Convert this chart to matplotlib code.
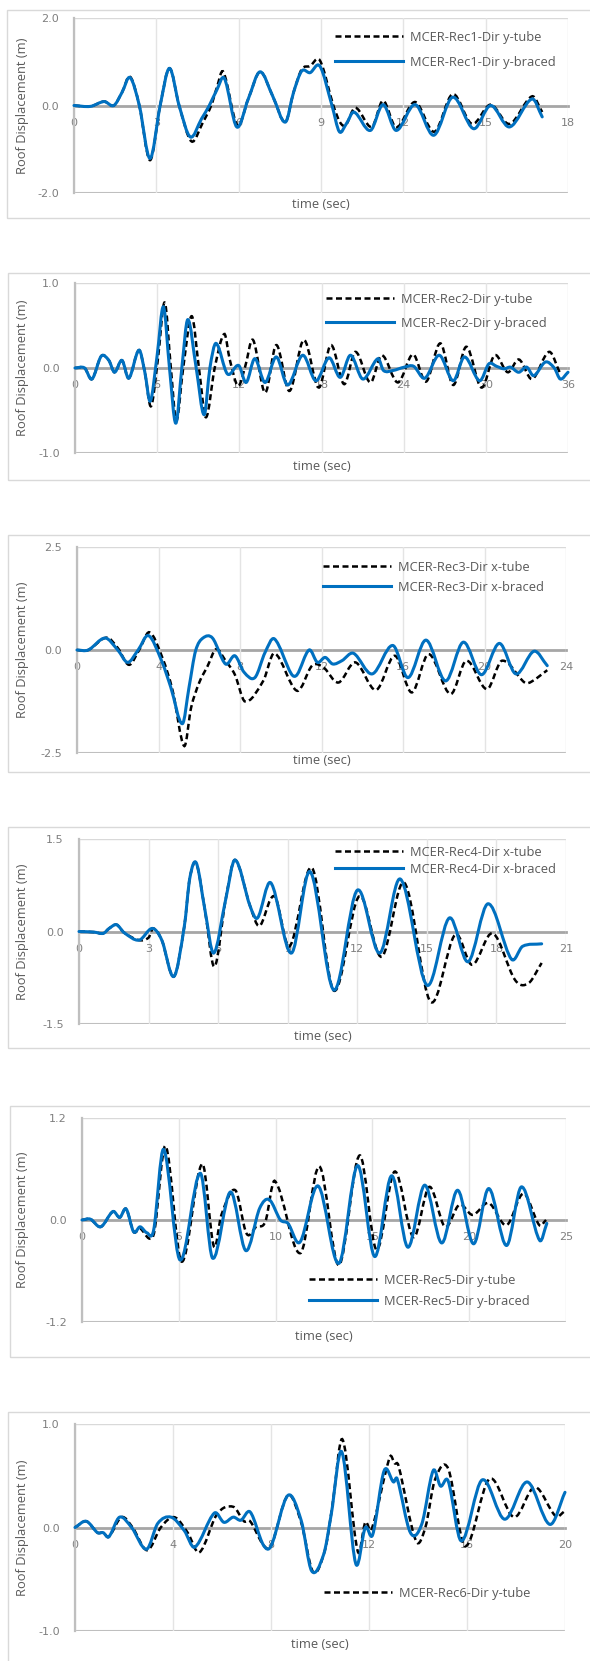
import matplotlib.pyplot as plt
from matplotlib.patches import Rectangle, PathPatch
from matplotlib.path import Path
from matplotlib.lines import Line2D

plt.rcParams['font.family'] = ['Open Sans', 'DejaVu Sans']

# ---- data ----
labels_tube = ['MCER-Rec1-Dir y-tube', 'MCER-Rec2-Dir y-tube', 'MCER-Rec3-Dir x-tube',
               'MCER-Rec4-Dir x-tube', 'MCER-Rec5-Dir y-tube', 'MCER-Rec6-Dir y-tube']
labels_braced = ['MCER-Rec1-Dir y-braced', 'MCER-Rec2-Dir y-braced', 'MCER-Rec3-Dir x-braced',
                 'MCER-Rec4-Dir x-braced', 'MCER-Rec5-Dir y-braced', 'MCER-Rec6-Dir y-braced']
y_max = [2.0, 1.0, 2.5, 1.5, 1.2, 1.0]
t_max = [18, 36, 24, 21, 25, 20]
t_step = [3, 6, 4, 3, 5, 4]

# Rec1
t1_tube = [0, 0.6, 1.1, 1.45, 1.75, 2.04, 2.38, 2.77, 3.14, 3.48, 3.83, 4.28, 4.7, 5.0, 5.2, 5.44, 5.95,
           6.35, 6.78, 7.25, 7.7, 8.0, 8.3, 8.6, 8.96, 9.45, 9.7, 9.9, 10.25, 10.85, 11.26, 11.74, 12.43,
           13.13, 13.8, 14.5, 15.18, 15.87, 16.69, 17.06]
y1_tube = [0, -0.02, 0.09, 0.0, 0.3, 0.66, 0.0, -1.25, 0.0, 0.85, 0.0, -0.82, -0.38, 0.0, 0.4, 0.77, -0.45,
           0.15, 0.77, 0.2, -0.38, 0.3, 0.83, 0.9, 1.03, 0.0, -0.39, -0.45, -0.05, -0.49, 0.11, -0.5, 0.08,
           -0.6, 0.26, -0.42, 0.02, -0.42, 0.21, -0.15]
t1_braced = [0, 0.6, 1.1, 1.45, 1.75, 2.04, 2.38, 2.77, 3.14, 3.48, 3.83, 4.24, 4.65, 4.93, 5.2, 5.48, 5.93,
             6.35, 6.78, 7.25, 7.7, 8.0, 8.3, 8.6, 8.96, 9.4, 9.67, 9.92, 10.2, 10.8, 11.26, 11.74, 12.43,
             13.11, 13.8, 14.56, 15.18, 15.87, 16.69, 17.06]
y1_braced = [0, -0.02, 0.09, 0.0, 0.3, 0.64, 0.0, -1.21, 0.0, 0.85, 0.0, -0.72, -0.3, 0.0, 0.35, 0.62, -0.49,
             0.15, 0.77, 0.2, -0.38, 0.3, 0.79, 0.75, 0.9, 0.0, -0.6, -0.42, -0.15, -0.57, 0.02, -0.57, 0.02,
             -0.68, 0.19, -0.53, 0.0, -0.49, 0.15, -0.26]

# Rec2
t2_tube = [0, 0.7, 1.24, 1.92, 2.47, 2.89, 3.43, 3.93, 4.67, 5.1, 5.55, 6.05, 6.55, 7.0, 7.4, 7.9, 8.52,
           9.05, 9.56, 10.2, 10.9, 11.3, 11.9, 12.4, 13.0, 13.88, 14.7, 15.66, 16.71, 17.8, 18.69, 19.65,
           20.47, 21.57, 22.4, 23.58, 24.68, 25.64, 26.68, 27.62, 28.58, 29.68, 30.64, 31.6, 32.42, 33.38,
           34.62, 35.44]
y2_tube = [0, 0, -0.13, 0.14, 0.09, -0.05, 0.09, -0.12, 0.21, -0.05, -0.45, 0.1, 0.77, 0.0, -0.62, 0.0, 0.61,
           0.0, -0.58, 0.0, 0.4, 0.1, -0.21, 0.0, 0.33, -0.29, 0.27, -0.27, 0.33, -0.23, 0.27, -0.19,
           0.19, -0.17, 0.15, -0.17, 0.16, -0.16, 0.29, -0.2, 0.25, -0.23, 0.15, -0.05, 0.1, -0.13,
           0.19, -0.07]
t2_braced = [0, 0.7, 1.24, 1.92, 2.47, 2.89, 3.43, 3.93, 4.67, 5.1, 5.5, 6.0, 6.46, 6.9, 7.36, 7.8, 8.24,
             8.85, 9.43, 9.85, 10.3, 11.13, 11.95, 12.5, 13.13, 13.88, 14.7, 15.53, 16.63, 17.59, 18.55,
             19.37, 20.12, 21.02, 22.12, 22.53, 23.2, 24.05, 24.73, 25.55, 26.6, 27.62, 28.44, 29.54, 30.23,
             30.78, 31.33, 31.8, 32.4, 32.98, 33.5, 34.35, 35.0, 35.44, 36.0]
y2_braced = [0, 0, -0.13, 0.14, 0.09, -0.05, 0.09, -0.12, 0.21, -0.05, -0.39, 0.15, 0.72, 0.0, -0.65, 0.0, 0.57,
             0.0, -0.55, 0.0, 0.29, -0.07, 0.03, -0.17, 0.11, -0.17, 0.13, -0.2, 0.15, -0.15, 0.12,
             -0.11, 0.15, -0.13, 0.11, -0.03, -0.03, 0.01, 0.02, -0.12, 0.15, -0.15, 0.13, -0.15, 0.05,
             0.02, -0.01, 0.01, -0.05, 0.01, -0.09, 0.07, 0.0, -0.13, -0.05]

# Rec3
t3_tube = [0, 0.55, 1.45, 2.0, 2.55, 3.05, 3.56, 4.2, 4.7, 5.26, 5.6, 6.0, 6.4, 6.83, 7.29, 7.75, 8.25, 9.14,
           9.69, 10.8, 11.54, 12.09, 12.83, 13.66, 14.68, 15.6, 16.43, 17.26, 18.33, 19.11, 20.12, 20.86,
           21.97, 22.3, 23.08]
y3_tube = [0, 0, 0.3, 0.05, -0.36, 0.0, 0.43, -0.2, -1.0, -2.33, -1.4, -0.79, -0.4, 0.02, -0.26, -0.6, -1.25, -0.75,
           -0.08, -0.99, -0.38, -0.42, -0.79, -0.3, -0.97, -0.14, -1.03, -0.1, -1.07, -0.26, -0.95, -0.26,
           -0.79, -0.77, -0.49]
t3_braced = [0, 0.55, 1.38, 2.0, 2.49, 3.0, 3.51, 4.15, 4.6, 5.17, 5.5, 5.82, 6.18, 6.65, 7.29, 7.75, 8.2,
             8.73, 9.23, 9.69, 10.52, 10.8, 11.39, 11.8, 12.18, 12.55, 13.0, 13.57, 14.49, 15.5, 16.25,
             17.13, 18.09, 18.96, 19.85, 20.73, 21.54, 22.43, 23.08]
y3_braced = [0, 0, 0.29, 0.0, -0.3, 0.0, 0.35, -0.26, -0.9, -1.79, -0.9, -0.02, 0.29, 0.29, -0.34, -0.14, -0.54,
             -0.67, -0.06, 0.27, -0.58, -0.6, 0.0, -0.3, -0.18, -0.34, -0.26, -0.08, -0.58, 0.11, -0.67,
             0.24, -0.75, 0.19, -0.6, 0.16, -0.58, -0.03, -0.38]

# Rec4
t4_tube = [0, 0.65, 1.05, 1.3, 1.62, 1.95, 2.59, 3.0, 3.2, 3.57, 4.09, 4.54, 4.78, 5.06, 5.43, 5.84, 6.32,
           6.73, 7.38, 7.78, 8.27, 8.5, 9.08, 10.05, 10.99, 12.08, 13.05, 14.03, 15.16, 16.22, 16.95, 17.84,
           18.81, 19.38, 19.95]
y4_tube = [0, -0.01, -0.03, 0.05, 0.11, -0.02, -0.14, -0.1, 0.05, -0.14, -0.73, 0.08, 0.87, 1.1, 0.35, -0.57, 0.51,
           1.16, 0.41, 0.09, 0.53, 0.53, -0.24, 1.03, -0.96, 0.57, -0.41, 0.79, -1.14, -0.05, -0.54, -0.03,
           -0.79, -0.84, -0.51]
t4_braced = [0, 0.65, 1.05, 1.3, 1.62, 1.95, 2.59, 3.16, 3.57, 4.09, 4.54, 4.78, 5.06, 5.43, 5.81, 6.32,
             6.73, 7.38, 7.7, 8.27, 9.16, 9.97, 10.99, 12.0, 12.97, 13.86, 15.0, 15.97, 16.78, 17.64,
             18.65, 19.13, 19.95]
y4_braced = [0, -0.01, -0.03, 0.05, 0.11, -0.02, -0.14, 0.05, -0.14, -0.73, 0.08, 0.87, 1.11, 0.35, -0.35, 0.51,
             1.16, 0.41, 0.22, 0.79, -0.35, 0.97, -0.95, 0.67, -0.35, 0.85, -0.87, 0.22, -0.49, 0.45,
             -0.45, -0.24, -0.2]

# Rec5
t5_tube = [0, 0.43, 0.97, 1.6, 1.95, 2.28, 2.67, 3.0, 3.5, 3.75, 4.32, 5.14, 6.21, 6.81, 7.2, 7.92, 8.5,
           9.0, 9.47, 9.96, 11.28, 12.26, 13.27, 14.34, 15.21, 16.15, 17.12, 17.94, 18.75, 19.49, 20.18,
           21.01, 21.93, 22.8, 23.62, 23.97]
y5_tube = [0, 0.01, -0.08, 0.1, 0.03, 0.13, -0.14, -0.1, -0.22, -0.12, 0.87, -0.49, 0.66, -0.31, 0.06, 0.35, -0.16,
           -0.08, -0.02, 0.46, -0.39, 0.63, -0.53, 0.76, -0.35, 0.57, -0.2, 0.39, -0.08, 0.18, 0.06,
           0.2, -0.06, 0.31, -0.06, 0.0]
t5_braced = [0, 0.43, 0.97, 1.6, 1.95, 2.28, 2.67, 3.0, 3.35, 3.7, 4.22, 5.06, 6.11, 6.75, 7.67, 8.46, 9.18,
             9.67, 10.25, 10.64, 11.26, 12.2, 13.27, 14.24, 15.12, 15.99, 16.83, 17.7, 18.58, 19.4, 20.23,
             21.01, 21.93, 22.7, 23.64, 24.01]
y5_braced = [0, 0.01, -0.08, 0.1, 0.03, 0.13, -0.14, -0.08, -0.15, -0.12, 0.83, -0.47, 0.55, -0.45, 0.33, -0.36, 0.14,
             0.24, 0.0, -0.04, -0.26, 0.4, -0.51, 0.64, -0.43, 0.52, -0.32, 0.41, -0.27, 0.35, -0.28,
             0.37, -0.3, 0.39, -0.24, -0.04]

# Rec6
t6_tube = [0, 0.46, 0.92, 1.15, 1.38, 1.9, 2.35, 2.95, 3.5, 4.05, 4.6, 5.08, 5.8, 6.46, 6.9, 7.15, 7.69, 8.0,
           8.69, 9.23, 9.72, 10.2, 10.5, 10.92, 11.54, 11.85, 12.1, 12.85, 13.05, 13.2, 13.92, 14.3, 14.69,
           15.23, 15.92, 16.92, 17.92, 18.77, 19.62, 20.0]
y6_tube = [0, 0.06, -0.05, -0.05, -0.09, 0.1, 0.0, -0.22, 0.0, 0.1, -0.05, -0.24, 0.13, 0.2, 0.06, 0.06, -0.17, -0.18,
           0.31, 0.05, -0.43, -0.22, 0.2, 0.85, -0.23, 0.05, -0.02, 0.68, 0.62, 0.6, -0.13, 0.0, 0.46,
           0.57, -0.18, 0.47, 0.1, 0.39, 0.11, 0.16]
t6_braced = [0, 0.46, 0.92, 1.15, 1.38, 1.82, 2.31, 2.92, 3.38, 3.92, 4.46, 4.89, 5.69, 6.08, 6.46, 6.77, 7.15,
             7.69, 8.0, 8.69, 9.23, 9.66, 10.15, 10.46, 10.89, 11.46, 11.85, 12.15, 12.62, 13.0, 13.15, 13.69,
             14.15, 14.62, 14.92, 15.23, 15.77, 16.62, 17.54, 18.46, 19.38, 20.0]
y6_braced = [0, 0.06, -0.05, -0.05, -0.09, 0.1, 0.0, -0.21, 0.04, 0.1, -0.03, -0.19, 0.14, 0.05, 0.1, 0.07, 0.15,
             -0.17, -0.18, 0.31, 0.07, -0.42, -0.26, 0.13, 0.73, -0.35, 0.0, -0.07, 0.55, 0.44, 0.47, -0.05,
             0.03, 0.55, 0.4, 0.45, -0.13, 0.46, 0.08, 0.44, 0.03, 0.34]

tube = [(t1_tube, y1_tube), (t2_tube, y2_tube), (t3_tube, y3_tube),
        (t4_tube, y4_tube), (t5_tube, y5_tube), (t6_tube, y6_tube)]
braced = [(t1_braced, y1_braced), (t2_braced, y2_braced), (t3_braced, y3_braced),
          (t4_braced, y4_braced), (t5_braced, y5_braced), (t6_braced, y6_braced)]

# ---- layout (pixels): plot left, right, top, bottom, box left, box top, box bottom, xlabel y,
#      legend line x, legend first row y, legend row pitch
layout = [
    (74, 568, 18, 193, 7, 10, 218, 205, 335, 37, 25),
    (75, 568, 283, 453, 8, 273, 480, 467, 326, 299, 24),
    (77, 566, 547, 753, 8, 535, 772, 760, 323, 567, 20),
    (79, 566, 839, 1024, 8, 827, 1048, 1037, 335, 852, 17),
    (82, 566, 1118, 1322, 10, 1106, 1357, 1337, 309, 1280, 21),
    (75, 565, 1424, 1631, 8, 1412, 1680, 1645, 324, 1593, 20),
]


def smoothed(t, y):
    # Excel-style "smoothed line": cubic Bezier segments through the read points
    n = len(t)
    slope = []
    for k in range(n):
        a = max(k - 1, 0)
        b = min(k + 1, n - 1)
        slope.append((y[b] - y[a]) / (t[b] - t[a]))
    verts = [(t[0], y[0])]
    codes = [Path.MOVETO]
    for k in range(n - 1):
        h = (t[k + 1] - t[k]) / 3
        verts += [(t[k] + h, y[k] + slope[k] * h),
                  (t[k + 1] - h, y[k + 1] - slope[k + 1] * h),
                  (t[k + 1], y[k + 1])]
        codes += [Path.CURVE4] * 3
    return Path(verts, codes)


W, H = 590, 1661
fig = plt.figure(figsize=(W / 100, H / 100), dpi=100)

BLUE = '#0070C0'
TXT = '#595959'
FS = 9.3
dash = (2.4, 1.4)

for i in range(6):
    L, R, T, B, bl, bt, bb, xly, lgx, lgy, pitch = layout[i]
    fig.add_artist(Rectangle((bl / W, 1 - bb / H), (W + 10 - bl) / W, (bb - bt) / H,
                             transform=fig.transFigure, fill=False, edgecolor='#d9d9d9', lw=1.0))
    ax = fig.add_axes([L / W, 1 - B / H, (R - L) / W, (B - T) / H])
    ym = y_max[i]
    ax.set_xlim(0, t_max[i])
    ax.set_ylim(-ym, ym)
    ax.set_facecolor('none')

    for s in ['top', 'right']:
        ax.spines[s].set_visible(False)
    ax.spines['left'].set_color('#bfbfbf')
    ax.spines['left'].set_linewidth(1.6)
    ax.spines['bottom'].set_position(('data', 0))
    ax.spines['bottom'].set_color('#a6a6a6')
    ax.spines['bottom'].set_linewidth(2.0)
    ax.spines['bottom'].set_zorder(1)
    ax.axhline(-ym, color='#bfbfbf', lw=1.5, zorder=1)
    ax.axhline(ym, color='#d9d9d9', lw=1.0, zorder=1)

    ax.set_xticks(list(range(0, t_max[i] + 1, t_step[i])))
    ax.grid(axis='x', color='#e4e4e4', lw=1.0, zorder=0)
    ax.set_yticks([-ym, 0, ym])
    ax.set_yticklabels([f'{v:.1f}' for v in [-ym, 0, ym]])
    ax.tick_params(axis='x', length=0, pad=9, labelsize=8, labelcolor='#7f7f7f')
    ax.tick_params(axis='y', length=0, pad=11, labelsize=8, labelcolor='#7f7f7f')
    for lab in ax.get_xticklabels() + ax.get_yticklabels():
        lab.set_family('DejaVu Sans')

    tt, yt = tube[i]
    tb, yb = braced[i]
    ax.add_patch(PathPatch(smoothed(tt, yt), fill=False, edgecolor='black', lw=1.8,
                           linestyle=(0, dash), zorder=3, clip_on=False))
    ax.add_patch(PathPatch(smoothed(tb, yb), fill=False, edgecolor=BLUE, lw=2.2,
                           joinstyle='round', capstyle='round', zorder=4, clip_on=False))

    fig.text((L + R) / 2 / W, 1 - xly / H, 'time (sec)', ha='center', va='center',
             fontsize=FS, color=TXT)
    fig.text(23 / W, 1 - (T + B) / 2 / H, 'Roof Displacement (m)', rotation=90,
             ha='center', va='center', fontsize=FS, color=TXT)

    h_tube = Line2D([], [], color='black', lw=1.8, dashes=dash)
    h_br = Line2D([], [], color=BLUE, lw=2.2)
    if i == 5:
        handles, labs = [h_tube], [labels_tube[i]]
    else:
        handles, labs = [h_tube, h_br], [labels_tube[i], labels_braced[i]]
    fpx = FS * 100 / 72
    ax.legend(handles, labs, loc='upper left', bbox_to_anchor=(lgx / W, 1 - (lgy - fpx / 2) / H),
              bbox_transform=fig.transFigure, frameon=False, fontsize=FS, labelcolor=TXT,
              handlelength=68 / fpx, handletextpad=7 / fpx, borderpad=0, borderaxespad=0,
              labelspacing=(pitch - fpx) / fpx)

fig.savefig('out.png', dpi=100, facecolor='white')
